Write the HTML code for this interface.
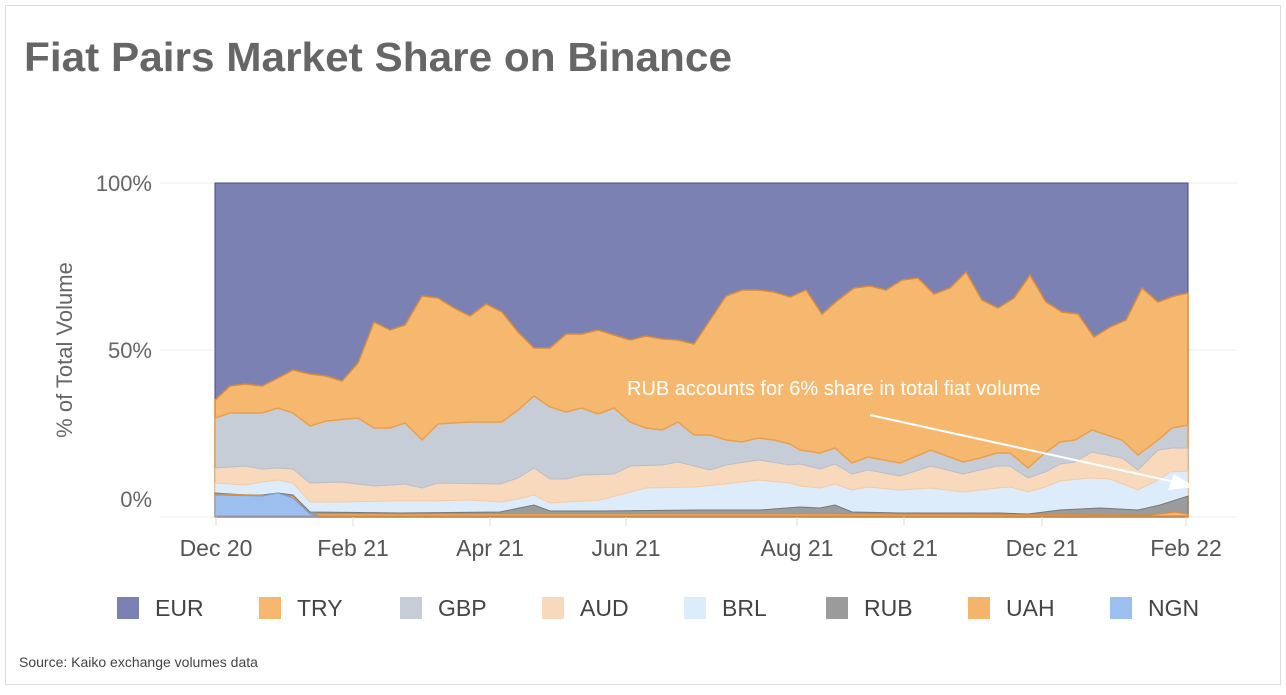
<!DOCTYPE html><html><head><style>body{margin:0;background:#fff}svg text{font-family:"Liberation Sans",sans-serif}</style></head><body>
<svg width="1286" height="690" xmlns="http://www.w3.org/2000/svg">
<rect x="5.5" y="5.5" width="1275" height="679" fill="#fff" stroke="#ddd"/>
<text x="24" y="71" font-size="41" font-weight="bold" fill="#666" textLength="708" lengthAdjust="spacingAndGlyphs">Fiat Pairs Market Share on Binance</text>
<g stroke="#eee"><line x1="160" y1="183" x2="1237" y2="183"/><line x1="160" y1="350" x2="1237" y2="350"/><line x1="160" y1="517" x2="1237" y2="517"/></g>
<rect x="215" y="183" width="973" height="334" fill="#7b82b3" stroke="#434a7e"/>
<polygon fill="#f5b86e" stroke="#d98a3a" stroke-width="1.5" points="215,400 230,386 245,384 262,386 278,378 293,370 310,374 326,376 342,381 358,363 374,322 390,330 405,325 422,296 438,298 454,308 470,316 486,304 502,312 518,332 534,348 550,348 566,334 582,334 598,330 614,335 630,340 646,336 662,339 678,340 694,344 710,320 726,296 742,290 758,290 774,292 790,297 806,290 822,314 838,300 854,288 870,286 886,290 902,280 918,278 934,294 950,288 966,272 982,300 998,308 1014,298 1030,275 1046,302 1062,312 1078,314 1094,337 1110,327 1126,320 1142,288 1158,302 1174,296 1188,293 1188,516 215,516"/>
<polygon fill="#c7cdd6" stroke="#e8a050" stroke-width="1.5" points="215,418 230,413 262,413 278,408 293,413 310,426 326,421 358,418 374,428 390,428 405,423 422,440 438,424 470,422 502,422 518,410 534,396 550,407 566,412 582,408 598,414 614,408 630,422 646,428 662,430 678,422 694,435 710,435 726,440 742,442 758,438 774,440 790,444 800,450 820,453 835,448 852,463 868,457 900,463 931,450 963,462 980,458 997,453 1010,453 1028,468 1045,453 1060,442 1075,440 1092,430 1122,440 1138,455 1158,440 1172,428 1188,425 1188,516 215,516"/>
<polygon fill="#f8d9bc" stroke="#b9bec8" stroke-width="1" points="215,468 245,466 262,469 278,468 293,469 310,483 340,482 375,486 405,484 422,488 438,483 500,484 518,478 534,468 550,479 566,479 582,475 614,474 630,466 662,465 678,462 694,466 710,470 726,465 758,460 790,465 800,464 820,469 835,464 852,474 868,470 900,476 931,466 963,474 997,466 1010,466 1028,478 1045,472 1060,464 1075,462 1092,452 1122,458 1138,470 1158,450 1172,448 1188,448 1188,516 215,516"/>
<polygon fill="#dcecfa" stroke="#f3cba8" stroke-width="1" points="215,483 245,485 262,482 278,480 293,483 310,502 340,502 390,501 430,501 470,500 502,502 518,499 534,495 550,503 566,502 600,500 646,488 694,487 726,484 758,480 790,483 800,486 820,488 835,484 852,490 868,487 900,490 931,488 963,492 997,488 1010,487 1028,492 1045,487 1060,481 1090,478 1110,479 1138,490 1158,480 1170,472 1188,471 1188,516 215,516"/>
<polygon fill="#9b9b9b" stroke="#777" stroke-width="1" points="215,493 245,495 262,495 278,493 293,495 310,512 400,513 500,512 534,505 550,511 600,511 700,510 760,510 800,507 820,508 835,505 852,512 900,513 1000,513 1028,514 1060,510 1100,508 1138,510 1160,505 1188,496 1188,516 215,516"/>
<polygon fill="#f4b46c" stroke="#d98a3a" stroke-width="1" points="215,494 293,496 310,514 800,514 1150,515 1175,512 1188,514 1188,516 215,516"/>
<polygon fill="#9dbfef" stroke="#7a9fd8" stroke-width="1" points="215,495 262,496 278,493 293,498 310,514 320,516 215,516"/>
<text x="627" y="395" font-size="20" fill="#fff">RUB accounts for 6% share in total fiat volume</text>
<line x1="870" y1="415" x2="1175" y2="482" stroke="#fff" stroke-width="2"/>
<polygon points="1195,487 1168,490 1174,474" fill="#fff"/>
<g font-size="22" fill="#666" text-anchor="end"><text x="152" y="191">100%</text><text x="152" y="358">50%</text><text x="152" y="507">0%</text></g>
<text transform="translate(72,350) rotate(-90)" font-size="22" fill="#666" text-anchor="middle">% of Total Volume</text>
<g stroke="#ddd"><line x1="216" y1="517" x2="216" y2="526"/><line x1="353" y1="517" x2="353" y2="526"/><line x1="490" y1="517" x2="490" y2="526"/><line x1="626" y1="517" x2="626" y2="526"/><line x1="797" y1="517" x2="797" y2="526"/><line x1="904" y1="517" x2="904" y2="526"/><line x1="1042" y1="517" x2="1042" y2="526"/><line x1="1186" y1="517" x2="1186" y2="526"/></g>
<g font-size="23" fill="#555" text-anchor="middle"><text x="216" y="556">Dec 20</text><text x="353" y="556">Feb 21</text><text x="490" y="556">Apr 21</text><text x="626" y="556">Jun 21</text><text x="797" y="556">Aug 21</text><text x="904" y="556">Oct 21</text><text x="1042" y="556">Dec 21</text><text x="1186" y="556">Feb 22</text></g>
<g font-size="23" fill="#444">
<rect x="117" y="597" width="22" height="22" fill="#7b82b3"/><text x="155" y="616">EUR</text>
<rect x="259" y="597" width="22" height="22" fill="#f5b86e"/><text x="297" y="616">TRY</text>
<rect x="400" y="597" width="22" height="22" fill="#c7cdd6"/><text x="438" y="616">GBP</text>
<rect x="542" y="597" width="22" height="22" fill="#f8d9bc"/><text x="580" y="616">AUD</text>
<rect x="684" y="597" width="22" height="22" fill="#dcecfa"/><text x="722" y="616">BRL</text>
<rect x="826" y="597" width="22" height="22" fill="#9b9b9b"/><text x="864" y="616">RUB</text>
<rect x="968" y="597" width="22" height="22" fill="#f4b46c"/><text x="1006" y="616">UAH</text>
<rect x="1110" y="597" width="22" height="22" fill="#9dbfef"/><text x="1148" y="616">NGN</text>
</g>
<text x="19" y="667" font-size="14" fill="#444">Source: Kaiko exchange volumes data</text>
</svg></body></html>
